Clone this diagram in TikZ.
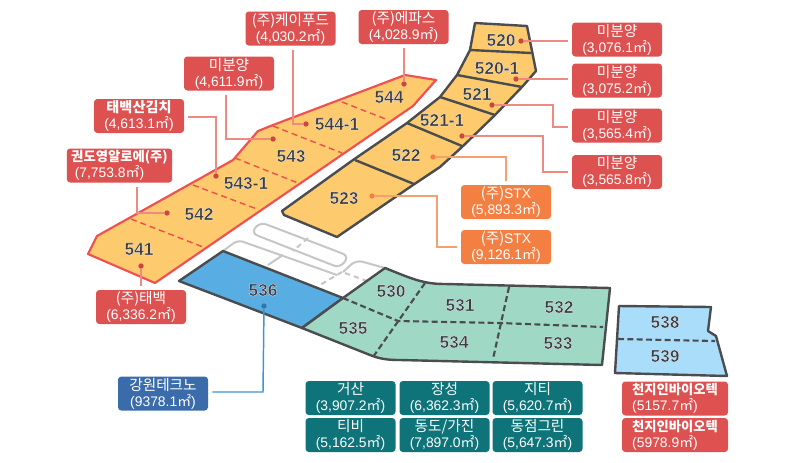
\documentclass[tikz,border=0pt]{standalone}
\usepackage{fontspec}
\setmainfont{Liberation Sans}
\newfontfamily\kr{Noto Sans CJK KR}
\newcommand{\sqm}{{\kr ㎡}}
\newcommand{\krt}[1]{{\kr\fontsize{11}{12}\selectfont #1}}
\newcommand{\krb}[1]{{\kr\bfseries\fontsize{10.6}{12}\selectfont #1}}
\newcommand{\krc}[1]{{\kr\bfseries\fontsize{10}{12}\selectfont #1}}
\definecolor{redb}{HTML}{DD5150}
\definecolor{oranb}{HTML}{F47F43}
\definecolor{tealb}{HTML}{0F7479}
\definecolor{blueb}{HTML}{3A6CAB}
\definecolor{parcelO}{HTML}{FDCB6E}
\definecolor{parcelB}{HTML}{58ADE2}
\definecolor{parcelG}{HTML}{9FD8C5}
\definecolor{parcelL}{HTML}{A9DDF9}
\definecolor{edgeD}{HTML}{4A4C50}
\definecolor{lotT}{HTML}{3C3E44}
\definecolor{edgeR}{HTML}{F0504F}
\definecolor{lineR}{HTML}{EE8A82}
\definecolor{lineO}{HTML}{F5A070}
\definecolor{lineB}{HTML}{3F94D6}
\definecolor{grayP}{HTML}{C6C6C6}
\tikzset{
  x=0.75pt,y=-0.75pt,
  box/.style={rounded corners=2.5pt,text=white,align=center,inner sep=0pt,
     minimum width=67.5pt,minimum height=25.5pt,font=\fontsize{10.4}{12}\selectfont},
  redbox/.style={box,fill=redb},
  oranbox/.style={box,fill=oranb},
  tealbox/.style={box,fill=tealb},
  bluebox/.style={box,fill=blueb},
  lot/.style={font=\fontsize{13}{14}\selectfont\bfseries,text=lotT,inner sep=0pt},
  dk/.style={draw=edgeD,line width=1.8pt,line join=round},
  dkd/.style={draw=edgeD,line width=1.6pt,dash pattern=on 4.5pt off 2.5pt},
  rd/.style={draw=edgeR,line width=1.6pt,line join=round},
  rdd/.style={draw=edgeR,line width=1.1pt,dash pattern=on 4.5pt off 3pt},
  gr/.style={draw=grayP,line width=1.5pt,line join=round},
  grd/.style={draw=grayP,line width=1.5pt,dash pattern=on 4pt off 3pt},
  dotR/.style={circle,fill=edgeR!85!black,inner sep=0pt,minimum size=4pt},
  dotO/.style={circle,fill=oranb,inner sep=0pt,minimum size=4pt},
  dotB/.style={circle,fill=lineB!80!black,inner sep=0pt,minimum size=4pt},
  lnR/.style={draw=lineR,line width=1.1pt,shorten >=3pt},
  lnO/.style={draw=lineO,line width=1.1pt,shorten >=3pt},
  lnB/.style={draw=lineB,line width=1.1pt,shorten >=3pt},
}
\newcommand{\lotlabel}[2]{\node[lot] at (#1) {\special{pdf:code 2 Tr 1 1 1 RG 0.2 w}#2\special{pdf:code 0 Tr}};}
\begin{document}
\begin{tikzpicture}
\useasboundingbox (0,0) rectangle (800,462);
\fill[white] (0,0) rectangle (800,462);

% left orange strip
\path[fill=parcelO,rd] (97,236) -- (233,160) -- (258,131) -- (273,125) -- (405,75) -- (436,80) -- (413,106) -- (155,283) -- (88,254) -- cycle;
\draw[rdd] (342,102) -- (388,120);
\draw[rdd] (273,126) -- (342,153);
\draw[rdd] (235,158) -- (298,183);
\draw[rdd] (193,185) -- (257,209);
\draw[rdd] (131,219) -- (203,247);

% right orange strip
\path[fill=parcelO,dk] (475,23) -- (527,26) -- (536,71) -- (522,87) -- (495,115) -- (462,147) -- (440,167) -- (413,185) -- (337,237) -- (284,215) -- (282,211) -- (353,160) -- (407,123) -- (440,97) -- (457,75) -- (470,50) -- cycle;
\draw[dk] (470,50) -- (531,53);
\draw[dk] (457,75) -- (522,87);
\draw[dk] (440,97) -- (495,115);
\draw[dk] (407,123) -- (462,146);
\draw[dk] (355,160) -- (414,184);

% gray empty lots
\draw[gr,rounded corners=5pt] (260,222) -- (349,256) -- (340,268) -- (251,233) -- cycle;
\draw[grd] (308,238) -- (293,251);
\draw[gr,rounded corners=4pt] (223,251) -- (238,240) -- (337,275);
\draw[gr] (283,255) -- (268,265);
\draw[grd] (342,272) -- (320,285);
\draw[gr,rounded corners=5pt] (343,272) -- (356,260) -- (385,268);
\draw[grd] (345,273) -- (367,281);

% blue lot
\path[fill=parcelB,dk] (223,251) -- (343,298) -- (302,328) -- (179,281) -- cycle;

% green block
\path[fill=parcelG,dk] (343,298) -- (385,268) -- (400,274) .. controls (420,282) and (430,284) .. (445,284) -- (610,288) -- (602,365) -- (400,360) .. controls (388,360) and (380,359) .. (370,355) -- (302,328) -- cycle;
\draw[dkd] (343,298) -- (398,321) -- (500,323) -- (603,327);
\draw[dkd] (425,283) -- (373,357);
\draw[dkd] (509,287) -- (493,359);

% light blue block
\path[fill=parcelL,dk] (619,306) -- (711,307) -- (708,331) -- (716,336) -- (727,376) -- (615,373) -- cycle;
\draw[dkd] (618,339) -- (715,341);

% lot labels
\lotlabel{389,97}{544}
\lotlabel{337,124}{544-1}
\lotlabel{291,156}{543}
\lotlabel{246,183}{543-1}
\lotlabel{199,214}{542}
\lotlabel{139,249}{541}
\lotlabel{501,40}{520}
\lotlabel{497,68}{520-1}
\lotlabel{477,94}{521}
\lotlabel{442,120}{521-1}
\lotlabel{406,155}{522}
\lotlabel{344,198}{523}
\lotlabel{263,290}{536}
\lotlabel{391,291}{530}
\lotlabel{353,328}{535}
\lotlabel{460,305}{531}
\lotlabel{559,307}{532}
\lotlabel{454,342}{534}
\lotlabel{558,343}{533}
\lotlabel{665,322}{538}
\lotlabel{665,356}{539}

% callout boxes
\node[redbox] (kf) at (290.5,28.5) {\krt{(주)케이푸드}\\(4,030.2\sqm)};
\node[redbox] (ep) at (403.5,27) {\krt{(주)에파스}\\(4,028.9\sqm)};
\node[redbox] (mi) at (229,73.5) {\krt{미분양}\\(4,611.9\sqm)};
\node[redbox] (tb) at (139,116) {\krb{태백산김치}\\(4,613.1\sqm)};
\node[redbox,minimum width=79pt] (kw) at (119.5,165.5) {\krc{권도영알로에(주)}\\\hspace*{-15pt}(7,753.8\sqm)};
\node[redbox] (ts) at (141,307) {\krt{(주)태백}\\(6,336.2\sqm)};
\node[bluebox] (gw) at (163,393.5) {\krt{강원테크노}\\(9378.1\sqm)};
\node[redbox] (m1) at (617,39.5) {\krt{미분양}\\(3,076.1\sqm)};
\node[redbox] (m2) at (617,80.5) {\krt{미분양}\\(3,075.2\sqm)};
\node[redbox] (m3) at (617,125.5) {\krt{미분양}\\(3,565.4\sqm)};
\node[redbox] (m4) at (617,172) {\krt{미분양}\\(3,565.8\sqm)};
\node[oranbox] (s1) at (506,202) {\krt{(주)}STX\\(5,893.3\sqm)};
\node[oranbox] (s2) at (506,247) {\krt{(주)}STX\\(9,126.1\sqm)};
\node[tealbox] (t1) at (350.5,398) {\krt{거산}\\(3,907.2\sqm)};
\node[tealbox] (t2) at (444.5,398) {\krt{장성}\\(6,362.3\sqm)};
\node[tealbox] (t3) at (537.5,398) {\krt{지티}\\(5,620.7\sqm)};
\node[tealbox] (t4) at (350.5,435) {\krt{티비}\\(5,162.5\sqm)};
\node[tealbox] (t5) at (444.5,435) {\krt{동도/가진}\\(7,897.0\sqm)};
\node[tealbox] (t6) at (537.5,435) {\krt{동점그린}\\(5,647.3\sqm)};
\node[redbox,minimum width=79.5pt] (c1) at (675,398.5) {\krc{천지인바이오텍}\\\hspace*{-15pt}(5157.7\sqm)};
\node[redbox,minimum width=79.5pt] (c2) at (675,435) {\krc{천지인바이오텍}\\\hspace*{-15pt}(5978.9\sqm)};

% connector dots and bends
\node[dotR] (dkf) at (306,124) {};
\coordinate (bkf) at (293,124);
\node[dotR] (dep) at (404,84) {};
\node[dotR] (dmi) at (273,139) {};
\coordinate (bmi) at (226,139);
\node[dotR] (dtb) at (216,176) {};
\coordinate (btb) at (216,117);
\node[dotR] (dkw) at (167,213) {};
\coordinate (bkw) at (137,213);
\node[dotR] (dts) at (141,266) {};
\node[dotB] (dgw) at (264,306) {};
\coordinate (bgw) at (263,392);
\node[dotR] (dm1) at (521,41) {};
\node[dotR] (dm2) at (516,79) {};
\node[dotR] (dm3) at (492,105) {};
\coordinate (bm3a) at (553,105);
\coordinate (bm3b) at (553,127);
\node[dotR] (dm4) at (462,136) {};
\coordinate (bm4a) at (543,136);
\coordinate (bm4b) at (543,172);
\node[dotO] (ds1) at (433,157) {};
\coordinate (bs1) at (506,157);
\node[dotO] (ds2) at (372,196) {};
\coordinate (bs2a) at (437,196);
\coordinate (bs2b) at (437,247);

% connectors
\draw[lnR] (dkf) -- (bkf) -- (bkf |- kf.south);
\draw[lnR] (dep) -- (dep |- ep.south);
\draw[lnR] (dmi) -- (bmi) -- (bmi |- mi.south);
\draw[lnR] (dtb) -- (btb) -- (btb -| tb.east);
\draw[lnR] (dkw) -- (bkw) -- (bkw |- kw.south);
\draw[lnR] (dts) -- (dts |- ts.north);
\draw[lnB] (dgw) -- (bgw) -- (bgw -| gw.east);
\draw[lnR] (dm1) -- (dm1 -| m1.west);
\draw[lnR] (dm2) -- (dm2 -| m2.west);
\draw[lnR] (dm3) -- (bm3a) -- (bm3b) -- (bm3b -| m3.west);
\draw[lnR] (dm4) -- (bm4a) -- (bm4b) -- (bm4b -| m4.west);
\draw[lnO] (ds1) -- (bs1) -- (bs1 |- s1.north);
\draw[lnO] (ds2) -- (bs2a) -- (bs2b) -- (bs2b -| s2.west);
\end{tikzpicture}
\end{document}
